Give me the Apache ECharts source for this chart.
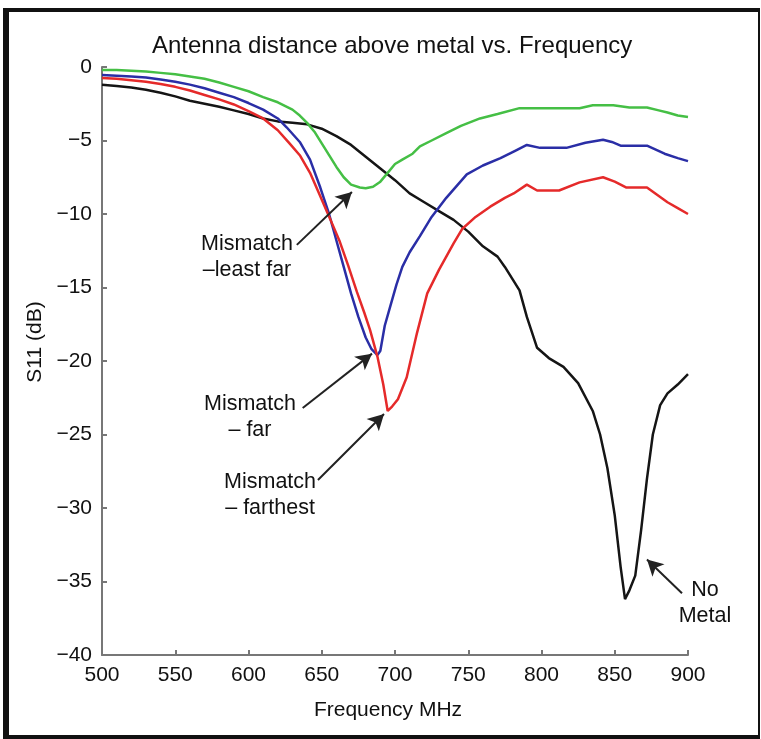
<!DOCTYPE html>
<html>
<head>
<meta charset="utf-8">
<script src="https://cdn.jsdelivr.net/npm/echarts@6/dist/echarts.min.js"></script>
<style>
  html, body { margin: 0; padding: 0; background: #fff; }
  #chart { width: 761px; height: 739px; }
  .frame {
    position: absolute; left: 3px; top: 8px; width: 757px; height: 731px;
    box-sizing: border-box; pointer-events: none;
    border-left: 6px solid #111; border-top: 4px solid #111;
    border-right: 2px solid #111; border-bottom: 4px solid #111;
  }
</style>
</head>
<body>
<div id="chart"></div>
<div class="frame"></div>
<script>
// S11 readings (dB) against frequency (MHz), one pair of arrays per curve
var freqNoMetal = [500,510,520,530,540,550,560,570,580,590,600,610,620,630,640,650,660,670,680,690,700,710,720,730,740,750,760,770,775,780,785,790,797,805,815,825,835,840,845,850,854,857,860,864,868,872,876,881,886,893,900];
var s11NoMetal = [-1.2,-1.3,-1.4,-1.55,-1.75,-2.0,-2.3,-2.5,-2.7,-2.95,-3.2,-3.5,-3.7,-3.8,-3.9,-4.2,-4.7,-5.3,-6.1,-6.9,-7.7,-8.6,-9.2,-9.8,-10.4,-11.2,-12.2,-12.9,-13.6,-14.4,-15.2,-17.0,-19.1,-19.8,-20.4,-21.5,-23.4,-25.0,-27.3,-30.5,-34.0,-36.2,-35.6,-34.6,-31.5,-28.0,-25.0,-23.0,-22.2,-21.6,-20.9];

var freqLeastFar = [500,510,520,530,540,550,560,570,580,590,600,610,620,630,635,640,645,650,655,660,665,670,676,680,685,690,695,700,705,712,717,725,735,745,758,770,785,800,815,826,835,849,860,872,880,886,893,900];
var s11LeastFar = [-0.2,-0.2,-0.25,-0.3,-0.4,-0.5,-0.65,-0.8,-1.05,-1.35,-1.65,-2.05,-2.4,-2.9,-3.3,-3.8,-4.4,-5.2,-6.0,-6.8,-7.5,-8.0,-8.2,-8.25,-8.15,-7.8,-7.2,-6.6,-6.3,-5.9,-5.4,-5.0,-4.5,-4.0,-3.5,-3.2,-2.8,-2.8,-2.8,-2.8,-2.6,-2.6,-2.75,-2.75,-2.95,-3.1,-3.3,-3.4];

var freqFar = [500,510,520,530,540,550,560,570,580,590,600,610,620,626,635,642,649,655,660,665,670,675,680,684,688,690,693,697,701,705,710,717,725,735,749,760,772,782,790,799,817,830,842,848,854,872,884,893,900];
var s11Far = [-0.55,-0.6,-0.65,-0.72,-0.85,-1.0,-1.2,-1.45,-1.75,-2.05,-2.45,-2.9,-3.5,-4.1,-5.1,-6.3,-8.2,-10.0,-11.8,-13.6,-15.4,-17.0,-18.4,-19.2,-19.6,-19.3,-17.6,-16.2,-14.8,-13.6,-12.6,-11.5,-10.2,-8.9,-7.3,-6.7,-6.2,-5.7,-5.3,-5.5,-5.5,-5.15,-4.95,-5.1,-5.35,-5.35,-5.9,-6.2,-6.4];

var freqFarthest = [500,510,520,530,540,550,560,570,580,590,600,610,620,628,635,642,649,656,662,668,674,679,683,688,692,695,698,702,708,715,722,730,740,746,755,765,775,781,790,797,812,826,842,850,858,872,886,893,900];
var s11Farthest = [-0.75,-0.8,-0.9,-1.0,-1.15,-1.35,-1.6,-1.9,-2.2,-2.55,-3.0,-3.5,-4.3,-5.2,-6.0,-7.2,-8.8,-10.4,-11.8,-13.5,-15.3,-16.7,-17.9,-19.7,-21.6,-23.4,-23.1,-22.6,-21.1,-18.1,-15.4,-13.8,-12.0,-11.0,-10.2,-9.5,-8.9,-8.6,-8.0,-8.4,-8.4,-7.85,-7.5,-7.8,-8.2,-8.2,-9.2,-9.6,-10.0];

// annotation text anchors and arrows [tailFreq, tailDb, tipFreq, tipDb]
var noteLeastFar = { text: 'Mismatch\n\u2013least far', at: [599, -12.9], arrow: [633, -12.1, 670.6, -8.5] };
var noteFar = { text: 'Mismatch\n\u2013 far', at: [601, -23.8], arrow: [637, -23.2, 684.3, -19.5] };
var noteFarthest = { text: 'Mismatch\n\u2013 farthest', at: [614.7, -29.1], arrow: [647.4, -28.1, 692.5, -23.6] };
var noteNoMetal = { text: 'No\nMetal', at: [900, -36.5], shift: [17, 0], arrow: [895.9, -35.8, 872, -33.5] };

var FONT = 'Liberation Sans, Arial, Helvetica, sans-serif';

function pairs(xs, ys) {
  return xs.map(function (x, i) { return [x, ys[i]]; });
}

function minus(v) {
  return String(v).replace('-', '\u2212');
}

function annotate(note) {
  var a = note.arrow;
  return {
    markLine: {
      silent: true,
      symbol: ['none', 'arrow'],
      symbolSize: [13, 16],
      lineStyle: { color: '#222', width: 2, type: 'solid' },
      label: { show: false },
      data: [[{ coord: [a[0], a[1]] }, { coord: [a[2], a[3]] }]]
    },
    markPoint: {
      silent: true,
      symbol: 'circle',
      symbolSize: 0,
      label: {
        show: true,
        position: 'inside',
        offset: note.shift || [0, 0],
        formatter: note.text,
        color: '#111',
        fontSize: 21.5,
        lineHeight: 26,
        fontFamily: FONT,
        align: 'center'
      },
      data: [{ coord: note.at }]
    }
  };
}

function curve(name, color, xs, ys, note) {
  var s = {
    name: name,
    type: 'line',
    data: pairs(xs, ys),
    showSymbol: false,
    smooth: false,
    lineStyle: { color: color, width: 2.5 },
    itemStyle: { color: color },
    z: 3
  };
  if (note) {
    var extra = annotate(note);
    s.markLine = extra.markLine;
    s.markPoint = extra.markPoint;
  }
  return s;
}

var chart = echarts.init(document.getElementById('chart'));
chart.setOption({
  animation: false,
  backgroundColor: '#fff',
  textStyle: { fontFamily: FONT },
  title: {
    text: 'Antenna distance above metal vs. Frequency',
    left: 147,
    top: 29,
    textStyle: { fontSize: 24, fontWeight: 'normal', color: '#111', fontFamily: FONT }
  },
  grid: { left: 102, right: 73, top: 67, bottom: 84, containLabel: false },
  xAxis: {
    type: 'value',
    min: 500,
    max: 900,
    interval: 50,
    name: 'Frequency MHz',
    nameLocation: 'middle',
    nameGap: 45,
    nameTextStyle: { fontSize: 21, color: '#111', fontFamily: FONT, padding: [0, 14, 0, 0] },
    axisLine: { onZero: false, lineStyle: { color: '#777', width: 2 } },
    axisTick: { inside: true, length: 5, lineStyle: { color: '#777', width: 2 } },
    axisLabel: { fontSize: 21, color: '#111', margin: 10, fontFamily: FONT },
    splitLine: { show: false }
  },
  yAxis: {
    type: 'value',
    min: -40,
    max: 0,
    interval: 5,
    name: 'S11 (dB)',
    nameLocation: 'middle',
    nameGap: 55,
    nameTextStyle: { fontSize: 21, color: '#111', fontFamily: FONT, padding: [0, 0, 0, 38] },
    axisLine: { show: true, onZero: false, lineStyle: { color: '#777', width: 2 } },
    axisTick: { show: true, inside: true, length: 5, lineStyle: { color: '#777', width: 2 } },
    axisLabel: { fontSize: 21, color: '#111', margin: 10, fontFamily: FONT, formatter: minus },
    splitLine: { show: false }
  },
  series: [
    curve('No Metal', '#151515', freqNoMetal, s11NoMetal, noteNoMetal),
    curve('Mismatch - least far', '#45bf45', freqLeastFar, s11LeastFar, noteLeastFar),
    curve('Mismatch - far', '#2a2ea6', freqFar, s11Far, noteFar),
    curve('Mismatch - farthest', '#e52a2a', freqFarthest, s11Farthest, noteFarthest)
  ]
});
</script>
</body>
</html>
